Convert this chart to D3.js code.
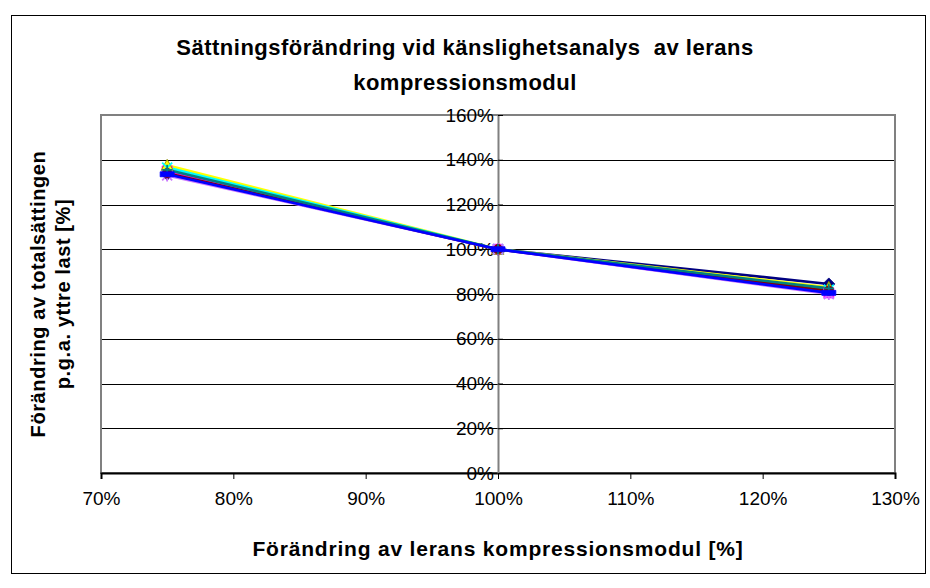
<!DOCTYPE html>
<html>
<head>
<meta charset="utf-8">
<script src="https://cdn.jsdelivr.net/npm/d3@7"></script>
<style>
  html, body { margin: 0; padding: 0; background: #fff; }
  svg { display: block; font-family: "Liberation Sans", Arial, sans-serif; }
  text { white-space: pre; }
</style>
</head>
<body>
<svg id="chart" width="930" height="588"></svg>
<script>
// Change in modulus of compressibility (x, %) and resulting change in total settlement (y, %)
const xValues = [75, 100, 125];
const seriesNames = ["S1", "S2", "S3", "S4", "S5", "S6", "S7", "S8"];
const seriesValues = [
  [133.5, 100, 84.5],
  [135.0, 100, 80.5],
  [137.5, 100, 83.0],
  [136.5, 100, 82.0],
  [133.0, 100, 80.0],
  [134.0, 100, 81.5],
  [135.5, 100, 82.5],
  [133.5, 100, 80.5]
];
const seriesColors = ["#000080", "#FF00FF", "#FFFF00", "#00FFFF", "#CC77FF", "#800000", "#008080", "#0000FF"];
const seriesMarkers = ["diamond", "square", "triangle", "cross", "star", "circle", "plus", "dash"];
const xTicks = [70, 80, 90, 100, 110, 120, 130];
const yTicks = [0, 20, 40, 60, 80, 100, 120, 140, 160];
const titleLines = ["Sättningsförändring vid känslighetsanalys  av lerans", "kompressionsmodul"];
const xTitle = "Förändring av lerans kompressionsmodul [%]";
const yTitleLines = ["Förändring av totalsättingen", "p.g.a. yttre last [%]"];

const svg = d3.select("#chart");
const plot = { left: 101, right: 895, top: 115, bottom: 473 };

const x = d3.scaleLinear().domain([70, 130]).range([plot.left, plot.right]);
const y = d3.scaleLinear().domain([0, 160]).range([plot.bottom, plot.top]);

// Chart frame
svg.append("rect")
  .attr("x", 11.5).attr("y", 15.5).attr("width", 914).attr("height", 558)
  .attr("fill", "#fff").attr("stroke", "#000").attr("stroke-width", 1);

// Horizontal gridlines
svg.append("g").selectAll("line").data(yTicks.filter(d => d > 0 && d < 160)).join("line")
  .attr("x1", plot.left).attr("x2", plot.right)
  .attr("y1", d => Math.round(y(d)) + 0.5).attr("y2", d => Math.round(y(d)) + 0.5)
  .attr("stroke", "#000").attr("stroke-width", 1.2);

// Plot area border
svg.append("rect")
  .attr("x", plot.left).attr("y", plot.top)
  .attr("width", plot.right - plot.left).attr("height", plot.bottom - plot.top)
  .attr("fill", "none").attr("stroke", "#808080").attr("stroke-width", 2);

// X axis along the bottom
const xAxis = d3.axisBottom(x).tickValues(xTicks).tickSize(6).tickPadding(13)
  .tickFormat(d => d + "%");
const gx = svg.append("g").attr("transform", `translate(0,${plot.bottom})`).call(xAxis);
gx.select(".domain").attr("stroke", "#000").attr("stroke-width", 2);
gx.selectAll(".tick line").attr("stroke", "#000").attr("stroke-width", 1);
gx.selectAll(".tick text").attr("font-size", 19).attr("fill", "#000")
  .attr("font-family", "Liberation Sans, Arial, sans-serif");

// Y axis crossing at 100 %
const yAxis = d3.axisLeft(y).tickValues(yTicks).tickSize(0).tickPadding(4)
  .tickFormat(d => d + "%");
const gy = svg.append("g").attr("transform", `translate(${x(100)},0)`).call(yAxis);
gy.select(".domain").attr("stroke", "#808080").attr("stroke-width", 2);
gy.selectAll(".tick text").attr("font-size", 19).attr("fill", "#000")
  .attr("font-family", "Liberation Sans, Arial, sans-serif");
gy.selectAll(".tick").append("line")
  .attr("x1", 0).attr("x2", 5).attr("stroke", "#000").attr("stroke-width", 1);

// Series lines
const line = d3.line().x((d, i) => x(xValues[i])).y(d => y(d));
const gSeries = svg.append("g");
seriesValues.forEach((vals, s) => {
  gSeries.append("path").datum(vals)
    .attr("d", line).attr("fill", "none")
    .attr("stroke", seriesColors[s]).attr("stroke-width", 2.6);
});

// Markers
function markerPath(type) {
  const r = 5;
  switch (type) {
    case "diamond": return `M0,${-r - 1}L${r + 1},0L0,${r + 1}L${-r - 1},0Z`;
    case "square": return `M${-r},${-r}H${r}V${r}H${-r}Z`;
    case "triangle": return `M0,${-r - 1}L${r + 1},${r}L${-r - 1},${r}Z`;
    case "cross": return `M${-r},${-r}L${r},${r}M${r},${-r}L${-r},${r}`;
    case "star": return `M${-r},${-r}L${r},${r}M${r},${-r}L${-r},${r}M0,${-r - 1}V${r + 1}`;
    case "circle": return d3.symbol(d3.symbolCircle, 70)();
    case "plus": return `M${-r},0H${r}M0,${-r}V${r}`;
    case "dash": return `M${-r - 2},-2.5H${r + 2}V2.5H${-r - 2}Z`;
  }
}
const filled = { diamond: true, square: true, triangle: true, circle: true, dash: true };
seriesValues.forEach((vals, s) => {
  const m = seriesMarkers[s];
  gSeries.append("g").selectAll("path").data(vals).join("path")
    .attr("transform", (d, i) => `translate(${x(xValues[i])},${y(d)})`)
    .attr("d", markerPath(m))
    .attr("fill", filled[m] ? seriesColors[s] : "none")
    .attr("stroke", filled[m] ? (m === "triangle" ? "#808000" : seriesColors[s]) : seriesColors[s])
    .attr("stroke-width", filled[m] ? 0.8 : 1.8);
});

// Titles
svg.append("text")
  .attr("text-anchor", "middle").attr("font-size", 22).attr("font-weight", "bold")
  .attr("letter-spacing", 0.5)
  .selectAll("tspan").data(titleLines).join("tspan")
  .attr("x", 465).attr("y", (d, i) => 55 + i * 35)
  .text(d => d);

svg.append("text")
  .attr("x", x(100)).attr("y", 556)
  .attr("text-anchor", "middle").attr("font-size", 21).attr("font-weight", "bold")
  .attr("letter-spacing", 0.8)
  .text(xTitle);

svg.append("g").attr("transform", `translate(0,${(plot.top + plot.bottom) / 2}) rotate(-90)`)
  .append("text").attr("text-anchor", "middle").attr("font-size", 20).attr("font-weight", "bold")
  .attr("letter-spacing", 0.6)
  .selectAll("tspan").data(yTitleLines).join("tspan")
  .attr("x", 0).attr("y", (d, i) => 45 + i * 25)
  .text(d => d);
</script>
</body>
</html>
